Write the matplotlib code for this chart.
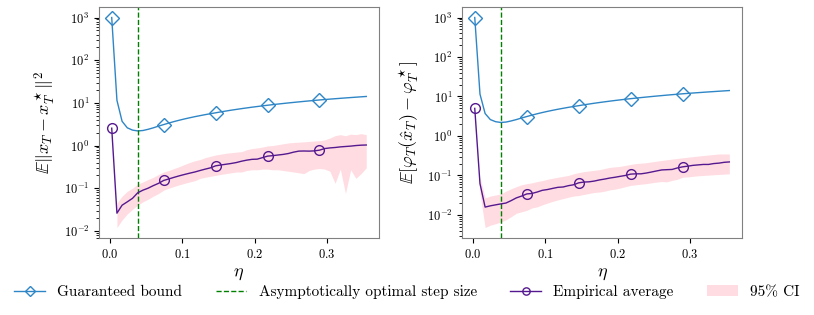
import numpy as np
import matplotlib
matplotlib.use('Agg')
import matplotlib.pyplot as plt

plt.rcParams['font.family'] = 'serif'
plt.rcParams['font.serif'] = ['cmr10']
plt.rcParams['mathtext.fontset'] = 'cm'
plt.rcParams['axes.formatter.use_mathtext'] = True

# step sizes of the sweep
eta = [0.0030, 0.0102, 0.0173, 0.0245, 0.0317, 0.0388, 0.0460, 0.0531, 0.0603, 0.0675,
       0.0746, 0.0818, 0.0890, 0.0961, 0.1033, 0.1104, 0.1176, 0.1248, 0.1319, 0.1391,
       0.1463, 0.1534, 0.1606, 0.1677, 0.1749, 0.1821, 0.1892, 0.1964, 0.2036, 0.2107,
       0.2179, 0.2251, 0.2322, 0.2394, 0.2465, 0.2537, 0.2609, 0.2680, 0.2752, 0.2824,
       0.2895, 0.2967, 0.3038, 0.3110, 0.3182, 0.3253, 0.3325, 0.3397, 0.3468, 0.3540]
eta_opt = 0.0388

# guaranteed bound (same for both panels)
bound = [1000, 11.5, 3.7, 2.6, 2.3, 2.2, 2.25, 2.4, 2.6, 2.85,
         3.1, 3.37, 3.65, 3.92, 4.2, 4.47, 4.75, 5.02, 5.3, 5.57,
         5.85, 6.15, 6.44, 6.74, 7.03, 7.33, 7.62, 7.92, 8.21, 8.51,
         8.8, 9.09, 9.38, 9.67, 9.96, 10.25, 10.54, 10.83, 11.12, 11.41,
         11.7, 11.97, 12.24, 12.51, 12.78, 13.05, 13.32, 13.59, 13.86, 14.13]

# left panel: E||x_T - x_T*||^2
emp_x = [2.55, 0.026, 0.040, 0.048, 0.058, 0.078, 0.09, 0.10, 0.115, 0.13,
         0.152, 0.165, 0.18, 0.195, 0.21, 0.225, 0.24, 0.26, 0.28, 0.30,
         0.335, 0.35, 0.365, 0.38, 0.40, 0.43, 0.455, 0.475, 0.48, 0.52,
         0.565, 0.58, 0.60, 0.62, 0.65, 0.70, 0.74, 0.745, 0.74, 0.75,
         0.78, 0.85, 0.88, 0.90, 0.93, 0.95, 0.97, 1.0, 1.02, 1.03]
lo_x = [np.nan, 0.012, 0.018, 0.025, 0.032, 0.04, 0.048, 0.055, 0.065, 0.075,
        0.09, 0.1, 0.11, 0.12, 0.13, 0.14, 0.15, 0.17, 0.18, 0.19,
        0.2, 0.21, 0.22, 0.23, 0.24, 0.24, 0.26, 0.27, 0.27, 0.28,
        0.28, 0.27, 0.27, 0.26, 0.25, 0.24, 0.23, 0.22, 0.26, 0.28,
        0.29, 0.28, 0.25, 0.13, 0.28, 0.075, 0.27, 0.17, 0.22, 0.3]
hi_x = [np.nan, 0.045, 0.065, 0.085, 0.10, 0.125, 0.14, 0.16, 0.18, 0.21,
        0.24, 0.26, 0.29, 0.32, 0.36, 0.40, 0.44, 0.47, 0.52, 0.56,
        0.6, 0.63, 0.66, 0.68, 0.7, 0.72, 0.80, 0.85, 0.88, 0.92,
        0.98, 1.0, 1.05, 1.1, 1.15, 1.18, 1.2, 1.22, 1.25, 1.28,
        1.3, 1.36, 1.5, 1.7, 1.8, 1.7, 1.85, 1.8, 1.9, 1.8]

# right panel: E[phi_T(x_hat_T) - phi_T*]
emp_f = [5.0, 0.062, 0.0158, 0.017, 0.018, 0.019, 0.02, 0.023, 0.027, 0.03,
         0.034, 0.035, 0.038, 0.042, 0.044, 0.047, 0.05, 0.051, 0.055, 0.058,
         0.065, 0.068, 0.069, 0.072, 0.077, 0.081, 0.086, 0.09, 0.095, 0.10,
         0.108, 0.11, 0.11, 0.115, 0.122, 0.13, 0.138, 0.14, 0.142, 0.155,
         0.165, 0.172, 0.18, 0.185, 0.19, 0.19, 0.20, 0.205, 0.215, 0.22]
lo_f = [np.nan, 0.035, 0.0048, 0.0055, 0.006, 0.0066, 0.0075, 0.009, 0.011, 0.012,
        0.013, 0.015, 0.016, 0.018, 0.02, 0.022, 0.024, 0.026, 0.028, 0.03,
        0.031, 0.033, 0.035, 0.037, 0.038, 0.04, 0.043, 0.045, 0.048, 0.052,
        0.056, 0.058, 0.06, 0.062, 0.065, 0.068, 0.07, 0.069, 0.075, 0.08,
        0.09, 0.092, 0.095, 0.098, 0.1, 0.102, 0.104, 0.106, 0.108, 0.11]
hi_f = [np.nan, 0.09, 0.027, 0.03, 0.032, 0.034, 0.04, 0.046, 0.052, 0.058,
        0.062, 0.065, 0.07, 0.074, 0.08, 0.085, 0.09, 0.095, 0.10, 0.11,
        0.118, 0.125, 0.13, 0.135, 0.14, 0.15, 0.16, 0.165, 0.17, 0.18,
        0.19, 0.2, 0.205, 0.21, 0.22, 0.23, 0.24, 0.25, 0.26, 0.27,
        0.28, 0.29, 0.3, 0.31, 0.32, 0.33, 0.34, 0.35, 0.35, 0.35]

blue = '#2f86c6'
purple = '#55198f'

fig = plt.figure(figsize=(8.14, 3.15), dpi=100)
ax1 = fig.add_axes([0.1216, 0.2444, 0.344, 0.7333])
ax2 = fig.add_axes([0.5676, 0.2444, 0.344, 0.7333])

panels = [(ax1, emp_x, lo_x, hi_x, r'$\mathbb{E}\|x_T - x_T^\star\|^2$'),
          (ax2, emp_f, lo_f, hi_f, r'$\mathbb{E}[\varphi_T(\hat{x}_T) - \varphi_T^\star]$')]

for ax, emp, lo, hi, ylab in panels:
    ax.plot(eta, bound, color=blue, lw=1.0, marker='D', ms=7, mfc='none',
            mew=1.0, markevery=10, label='Guaranteed bound')
    ax.axvline(eta_opt, color='green', ls='--', lw=1.0,
               label='Asymptotically optimal step size')
    ax.plot(eta, emp, color=purple, lw=1.0, marker='o', ms=7, mfc='none',
            mew=1.0, markevery=10, label='Empirical average')
    ax.fill_between(eta, lo, hi, color='pink', alpha=0.55, lw=0, label=r'95% CI')
    ax.set_yscale('log')
    ax.set_xlabel(r'$\eta$', fontsize=13)
    ax.set_ylabel(ylab, fontsize=13)
    ax.set_xticks([0.0, 0.1, 0.2, 0.3])
    ax.tick_params(labelsize=9)
    for s in ax.spines.values():
        s.set_edgecolor('0.5')

handles, labels = ax1.get_legend_handles_labels()
fig.legend(handles, labels, loc='center', ncol=4, frameon=False,
           fontsize=11, bbox_to_anchor=(0.5, 0.073), columnspacing=2.2,
           handlelength=2.0, handletextpad=0.8, markerscale=0.75)

fig.savefig('out.png', dpi=100)
